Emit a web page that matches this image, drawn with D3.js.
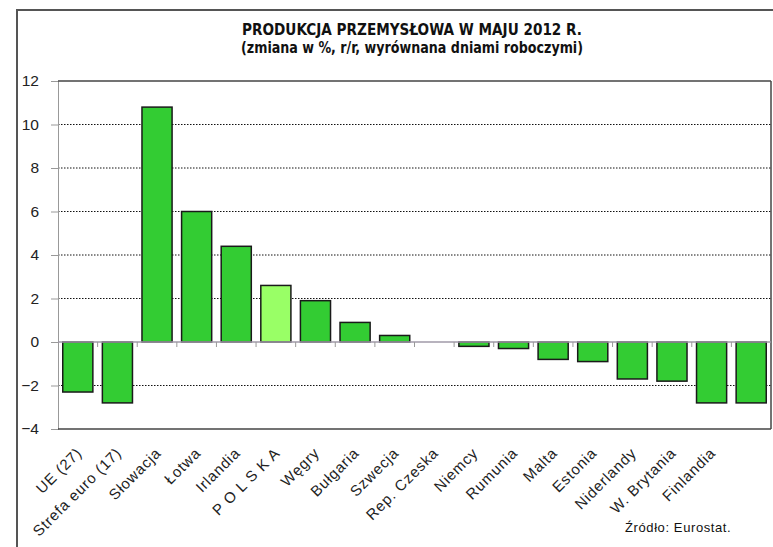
<!DOCTYPE html>
<html>
<head>
<meta charset="utf-8">
<script src="https://cdn.jsdelivr.net/npm/d3@7"></script>
<style>
  body { margin: 0; background: #fff; }
  svg { display: block; font-family: "Liberation Sans", Arial, sans-serif; }
</style>
</head>
<body>
<svg id="chart" width="773" height="547"></svg>
<script>
const titleLines = [
  "PRODUKCJA PRZEMYSŁOWA W MAJU 2012 R.",
  "(zmiana w %, r/r, wyrównana dniami roboczymi)"
];
const countries = [
  "UE (27)", "Strefa euro (17)", "Słowacja", "Łotwa", "Irlandia", "P O L S K A",
  "Węgry", "Bułgaria", "Szwecja", "Rep. Czeska", "Niemcy", "Rumunia",
  "Malta", "Estonia", "Niderlandy", "W. Brytania", "Finlandia", ""
];
const values = [-2.3, -2.8, 10.8, 6.0, 4.4, 2.6, 1.9, 0.9, 0.3, 0, -0.2, -0.3, -0.8, -0.9, -1.7, -1.8, -2.8, -2.8];
const highlight = "P O L S K A";
const yTicks = [-4, -2, 0, 2, 4, 6, 8, 10, 12];
const sourceNote = "Źródło: Eurostat.";

const svg = d3.select("#chart");
const margin = { top: 81, left: 58, right: 2, bottom: 118 };
const W = 773, H = 547;

// outer frame
svg.append("rect")
  .attr("x", 17).attr("y", 10)
  .attr("width", 780).attr("height", 560)
  .attr("fill", "#fff")
  .attr("stroke", "#555").attr("stroke-width", 2);

const x = d3.scaleBand()
  .domain(d3.range(countries.length))
  .range([margin.left, W - margin.right])
  .paddingInner(0.24)
  .paddingOuter(0.12);

const y = d3.scaleLinear()
  .domain([-4, 12])
  .range([H - margin.bottom, margin.top]);

// title
const titleFont = "'Liberation Sans Narrow', 'DejaVu Sans Condensed', sans-serif";
svg.append("text")
  .attr("x", 412).attr("y", 35)
  .attr("text-anchor", "middle")
  .attr("font-family", titleFont)
  .attr("font-weight", "bold").attr("font-size", 16)
  .attr("fill", "#111")
  .attr("textLength", 340).attr("lengthAdjust", "spacingAndGlyphs")
  .text(titleLines[0]);
svg.append("text")
  .attr("x", 412).attr("y", 53)
  .attr("text-anchor", "middle")
  .attr("font-family", titleFont)
  .attr("font-weight", "bold").attr("font-size", 16)
  .attr("fill", "#111")
  .attr("textLength", 342).attr("lengthAdjust", "spacingAndGlyphs")
  .text(titleLines[1]);

// dotted gridlines
svg.append("g")
  .selectAll("line")
  .data(yTicks.filter(d => d !== 0 && d !== 12 && d !== -4))
  .join("line")
  .attr("x1", margin.left).attr("x2", W - margin.right)
  .attr("y1", d => y(d)).attr("y2", d => y(d))
  .attr("stroke", "#111").attr("stroke-width", 1)
  .attr("stroke-dasharray", "1.5,1.5");

// y axis
const yAxis = svg.append("g")
  .attr("transform", `translate(${margin.left},0)`)
  .call(d3.axisLeft(y).tickValues(yTicks).tickSize(7).tickPadding(12).tickFormat(d3.format("d")));
yAxis.select(".domain").attr("stroke", "#999");
yAxis.selectAll(".tick line").attr("stroke", "#999");
yAxis.selectAll(".tick text")
  .attr("font-family", "'Liberation Sans', Arial, sans-serif")
  .attr("font-size", 15.5).attr("fill", "#222");

// plot frame top/right/bottom
const fr = svg.append("g").attr("stroke", "#444").attr("stroke-width", 1.5);
fr.append("line").attr("x1", margin.left).attr("x2", W - margin.right)
  .attr("y1", y(12)).attr("y2", y(12));
fr.append("line").attr("x1", W - margin.right).attr("x2", W - margin.right)
  .attr("y1", y(12)).attr("y2", y(-4));
fr.append("line").attr("x1", margin.left).attr("x2", W - margin.right)
  .attr("y1", y(-4)).attr("y2", y(-4));

// bars
svg.append("g")
  .selectAll("rect")
  .data(values.map((v, i) => ({ v, i })).filter(d => d.v !== 0))
  .join("rect")
  .attr("x", d => x(d.i))
  .attr("width", x.bandwidth())
  .attr("y", d => y(Math.max(0, d.v)))
  .attr("height", d => Math.abs(y(d.v) - y(0)))
  .attr("fill", d => countries[d.i] === highlight ? "#99ff66" : "#33cc33")
  .attr("stroke", "#1a1a1a").attr("stroke-width", 1.5);

// zero line and category ticks
svg.append("line")
  .attr("x1", margin.left).attr("x2", W - margin.right)
  .attr("y1", y(0)).attr("y2", y(0))
  .attr("stroke", "#a09aa8").attr("stroke-width", 1.5);
const step = x.step();
svg.append("g")
  .selectAll("line")
  .data(d3.range(1, countries.length))
  .join("line")
  .attr("x1", i => margin.left + i * step).attr("x2", i => margin.left + i * step)
  .attr("y1", y(0)).attr("y2", y(0) + 5)
  .attr("stroke", "#999").attr("stroke-width", 1);

// x labels
svg.append("g")
  .selectAll("text")
  .data(countries)
  .join("text")
  .attr("transform", (d, i) => `translate(${x(i) + x.bandwidth() / 2 + 5},${y(-4) + 25}) rotate(-45)`)
  .attr("text-anchor", "end")
  .attr("font-size", 15)
  .attr("letter-spacing", 0.8)
  .attr("fill", "#222")
  .text(d => d);

// source
svg.append("text")
  .attr("x", 625).attr("y", 532)
  .attr("font-size", 13).attr("letter-spacing", 0.6).attr("fill", "#111")
  .text(sourceNote);
</script>
</body>
</html>
